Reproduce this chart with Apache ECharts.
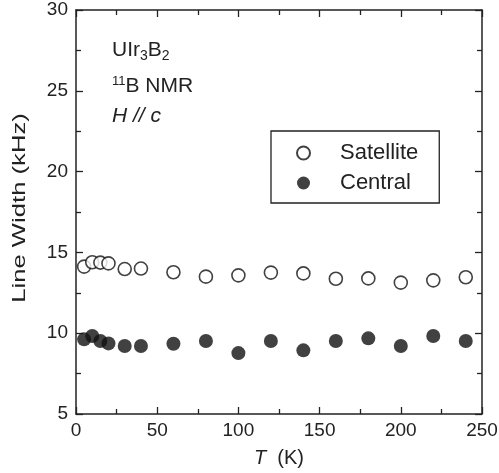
<!DOCTYPE html>
<html>
<head>
<meta charset="utf-8">
<script src="https://cdn.jsdelivr.net/npm/echarts@6/dist/echarts.min.js"></script>
<style>
  html, body { margin: 0; padding: 0; background: #fff; }
  #chart { width: 499px; height: 473px; }
</style>
</head>
<body>
<div id="chart"></div>
<script>
// temperatures (K)
const temps = [5, 10, 15, 20, 30, 40, 60, 80, 100, 120, 140, 160, 180, 200, 220, 240];
// line widths (kHz)
const satellite = [14.12, 14.39, 14.37, 14.32, 13.97, 14.0, 13.77, 13.5, 13.58, 13.75, 13.7, 13.37, 13.39, 13.13, 13.27, 13.46];
const central = [9.62, 9.83, 9.52, 9.37, 9.21, 9.21, 9.35, 9.52, 8.77, 9.52, 8.94, 9.52, 9.68, 9.21, 9.83, 9.52];

const font = 'Liberation Sans, Arial, sans-serif';
const ink = '#222';

function pairs(ys) {
  return temps.map((t, i) => [t, ys[i]]);
}

// fresh tick settings for every axis, ticks pointing into the frame
function ticks() {
  return {
    axisLine: { show: true, onZero: false, lineStyle: { color: ink, width: 1.5 } },
    axisTick: { show: true, inside: true, length: 7, lineStyle: { color: ink, width: 1.3 } },
    minorTick: { show: true, splitNumber: 2, length: 5, lineStyle: { color: ink, width: 1.3 } },
    splitLine: { show: false }
  };
}

const chart = echarts.init(document.getElementById('chart'));

chart.setOption({
  animation: false,
  grid: { left: 76, right: 17, top: 10, bottom: 59, outerBoundsMode: 'none' },
  xAxis: [
    Object.assign({
      type: 'value', min: 0, max: 250, interval: 50, position: 'bottom',
      axisLabel: { color: ink, fontSize: 19, fontFamily: font, margin: 7 },
      name: '{i|T}  (K)',
      nameLocation: 'middle', nameGap: 34,
      nameTextStyle: {
        color: ink, fontSize: 20, fontFamily: font,
        rich: { i: { fontStyle: 'italic', fontSize: 20, fontFamily: font, color: ink } }
      }
    }, ticks()),
    Object.assign({
      type: 'value', min: 0, max: 250, interval: 50, position: 'top',
      axisLabel: { show: false }
    }, ticks())
  ],
  yAxis: [
    Object.assign({
      type: 'value', min: 5, max: 30, interval: 5, position: 'left',
      axisLabel: { color: ink, fontSize: 19, fontFamily: font, margin: 8 }
    }, ticks()),
    Object.assign({
      type: 'value', min: 5, max: 30, interval: 5, position: 'right',
      axisLabel: { show: false }
    }, ticks())
  ],
  legend: {
    orient: 'vertical',
    left: 271, top: 131,
    padding: [10, 21, 8, 25],
    itemGap: 6,
    itemWidth: 13, itemHeight: 13,
    borderColor: ink, borderWidth: 1.3, borderRadius: 0,
    textStyle: { color: ink, fontSize: 22, lineHeight: 24, fontFamily: font, padding: [0, 0, 0, 25] },
    data: ['Satellite', 'Central']
  },
  series: [
    {
      name: 'Satellite', type: 'scatter', symbol: 'circle', symbolSize: 13,
      itemStyle: { color: '#fff', borderColor: '#111', borderWidth: 1.6 },
      data: pairs(satellite)
    },
    {
      name: 'Central', type: 'scatter', symbol: 'circle', symbolSize: 14,
      itemStyle: { color: '#111' },
      data: pairs(central)
    }
  ],
  graphic: [
    {
      type: 'text', left: 112, top: 40,
      style: {
        text: '{a|UIr}{s|3}{a|B}{s|2}',
        rich: {
          a: { fontSize: 21, fontFamily: font, fill: ink },
          s: { fontSize: 14, fontFamily: font, fill: ink, padding: [11, 0, 0, 0] }
        }
      }
    },
    {
      type: 'text', left: 112, top: 75,
      style: {
        text: '{s|11}{a|B NMR}',
        rich: {
          a: { fontSize: 21, fontFamily: font, fill: ink },
          s: { fontSize: 13, fontFamily: font, fill: ink, padding: [0, 0, 9, 0] }
        }
      }
    },
    {
      type: 'text', left: 112, top: 106,
      style: {
        text: 'H // c',
        font: 'italic 21px ' + font,
        fill: ink
      }
    },
    {
      // y-axis title, stretched along its length like the original
      type: 'text', x: 20, y: 208, rotation: Math.PI / 2, scaleX: 1.35,
      style: {
        text: 'Line Width (kHz)',
        font: '19px ' + font,
        fill: ink,
        align: 'center',
        verticalAlign: 'middle'
      }
    }
  ]
});
</script>
</body>
</html>
